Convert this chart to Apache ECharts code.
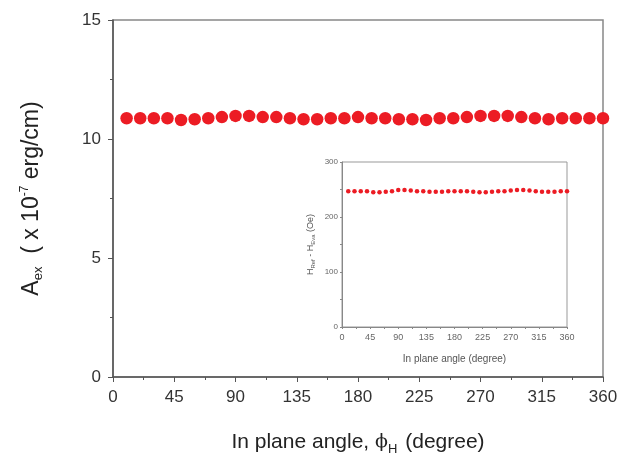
<!DOCTYPE html>
<html>
<head>
<meta charset="utf-8">
<script src="https://cdn.jsdelivr.net/npm/echarts@6/dist/echarts.min.js"></script>
<style>
  html, body { margin: 0; padding: 0; background: #fff; }
  .main { width: 624px; height: 461px; }
</style>
</head>
<body>
<div class="main"></div>
<script>
// in plane angle (degree)
var angles = [10, 20, 30, 40, 50, 60, 70, 80, 90, 100, 110, 120,
  130, 140, 150, 160, 170, 180, 190, 200, 210, 220, 230, 240,
  250, 260, 270, 280, 290, 300, 310, 320, 330, 340, 350, 360];
// A_ex (x 1e-7 erg/cm)
var aex = [10.87, 10.87, 10.87, 10.87, 10.80, 10.83, 10.87, 10.92, 10.97, 10.97, 10.92, 10.92,
  10.87, 10.83, 10.83, 10.87, 10.87, 10.92, 10.87, 10.87, 10.83, 10.83, 10.80, 10.87,
  10.87, 10.92, 10.97, 10.97, 10.97, 10.92, 10.87, 10.83, 10.87, 10.87, 10.87, 10.87];
// inset: field difference (Oe)
var hdiff = [247, 247, 247, 247, 245, 245, 246, 247, 249, 249, 248, 247,
  247, 246, 246, 246, 247, 247, 247, 247, 246, 245, 245, 246,
  247, 247, 248, 249, 249, 248, 247, 246, 246, 246, 247, 247];
var xTicks = [0, 45, 90, 135, 180, 225, 270, 315, 360];

var font = 'Liberation Sans, Arial, sans-serif';
var axisCol = '#555';
var red = '#ec1c24';

function pairs(ys) {
  return angles.map(function (a, i) { return [a, ys[i]]; });
}

var myChart = echarts.init(document.querySelector('.main'));
var option = {
  animation: false,
  backgroundColor: '#fff',
  grid: [
    { left: 113, right: 21, top: 20, bottom: 84, show: true, borderColor: '#888', borderWidth: 1.5 },
    { left: 342, width: 225, top: 162, height: 165, show: true, borderColor: '#999', borderWidth: 1, backgroundColor: '#fff', z: 5 }
  ],
  xAxis: [{
    gridIndex: 0, type: 'value', min: 0, max: 360, interval: 45,
    name: '{a|In plane angle, }{b|ϕ}{s|H}{a| (degree)}', nameLocation: 'middle', nameGap: 52,
    nameTextStyle: { fontFamily: font, color: '#222', rich: {
      a: { fontSize: 21, fontFamily: font, color: '#222' },
      b: { fontSize: 19, fontFamily: 'DejaVu Serif', color: '#222' },
      s: { fontSize: 13, fontFamily: font, color: '#222', padding: [14, 2, 0, 0] }
    } },
    axisLine: { onZero: false, lineStyle: { color: axisCol, width: 1.5 } },
    axisTick: { inside: false, length: 5, lineStyle: { color: axisCol } },
    minorTick: { show: true, splitNumber: 2, length: 3, lineStyle: { color: axisCol } },
    axisLabel: { fontSize: 17, fontFamily: font, color: '#333', margin: 12,
      formatter: function (v) { return xTicks.indexOf(v) >= 0 ? v : ''; } },
    splitLine: { show: false }
  }, {
    gridIndex: 1, type: 'value', min: 0, max: 360, interval: 45,
    name: 'In plane angle (degree)', nameLocation: 'middle', nameGap: 27,
    nameTextStyle: { fontSize: 10, fontFamily: font, color: '#555' },
    axisLine: { onZero: false, lineStyle: { color: '#888' } },
    axisTick: { length: 2, lineStyle: { color: '#888' } },
    minorTick: { show: true, splitNumber: 2, length: 2, lineStyle: { color: '#888' } },
    axisLabel: { fontSize: 9, fontFamily: font, color: '#666', margin: 6 },
    splitLine: { show: false }, z: 6
  }],
  yAxis: [{
    gridIndex: 0, type: 'value', min: 0, max: 15, interval: 5,
    name: '{a|A}{s|ex}{a|  ( x 10}{p|-7}{a| erg/cm)}', nameLocation: 'middle', nameGap: 68, nameRotate: 90,
    nameTextStyle: { fontFamily: font, color: '#222', rich: {
      a: { fontSize: 23, fontFamily: font, color: '#222' },
      s: { fontSize: 13, fontFamily: font, color: '#222', padding: [14, 0, 0, 0] },
      p: { fontSize: 12, fontFamily: font, color: '#222', padding: [0, 0, 14, 0] }
    } },
    axisLine: { onZero: false, lineStyle: { color: axisCol, width: 1.5 } },
    axisTick: { length: 5, lineStyle: { color: axisCol } },
    minorTick: { show: true, splitNumber: 2, length: 3, lineStyle: { color: axisCol } },
    axisLabel: { fontSize: 17, fontFamily: font, color: '#333', margin: 12 },
    splitLine: { show: false }
  }, {
    gridIndex: 1, type: 'value', min: 0, max: 300, interval: 100,
    name: '{a|H}{s|Ref}{a| - H}{s|Eva}{a| (Oe)}', nameLocation: 'middle', nameGap: 26, nameRotate: 90,
    nameTextStyle: { color: '#555', rich: {
      a: { fontSize: 9, fontFamily: font, color: '#555' },
      s: { fontSize: 6, fontFamily: font, color: '#555', padding: [5, 0, 0, 0] }
    } },
    axisLine: { onZero: false, lineStyle: { color: '#888' } },
    axisTick: { length: 2, lineStyle: { color: '#888' } },
    minorTick: { show: true, splitNumber: 2, length: 2, lineStyle: { color: '#888' } },
    axisLabel: { fontSize: 8, fontFamily: font, color: '#666', margin: 4 },
    splitLine: { show: false }, z: 6
  }],
  series: [{
    type: 'scatter', xAxisIndex: 0, yAxisIndex: 0,
    data: pairs(aex), symbol: 'circle', symbolSize: 12.5,
    itemStyle: { color: red, opacity: 1 }
  }, {
    type: 'scatter', xAxisIndex: 1, yAxisIndex: 1,
    data: pairs(hdiff), symbol: 'circle', symbolSize: 4.5,
    itemStyle: { color: red, opacity: 1 }, z: 7
  }]
};
myChart.setOption(option);
</script>
</body>
</html>
